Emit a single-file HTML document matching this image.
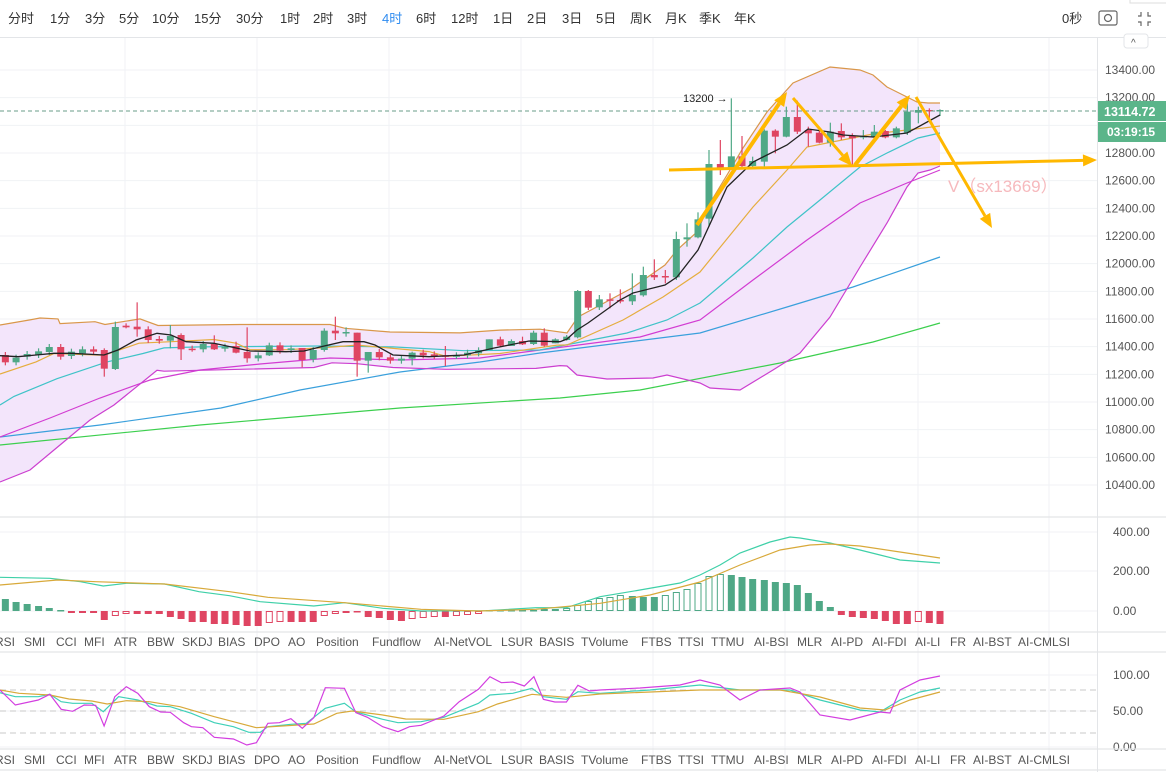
<!DOCTYPE html>
<html><head><meta charset="utf-8"><style>
html,body{margin:0;padding:0;background:#fff;width:1166px;height:772px;overflow:hidden}
#c{position:absolute;left:0;top:0}
svg text{font-family:"Liberation Sans","Noto Sans CJK SC",sans-serif}
</style></head><body><div id="c"></div>
<script>
const W=1166,H=772;let s='';
const P=a=>a.map(p=>p[0].toFixed(1)+','+p[1].toFixed(1)).join(' ');
const fx=y=>290+(y-290)*0.9333;
// toolbar
const tb=[['分时',8],['1分',50],['3分',85],['5分',119],['10分',152],['15分',194],['30分',236],['1时',280],['2时',313],['3时',347],['4时',382],['6时',416],['12时',451],['1日',493],['2日',527],['3日',562],['5日',596],['周K',630],['月K',665],['季K',699],['年K',734]];
tb.forEach(t=>{s+=`<text x="${t[1]}" y="23" font-size="13" fill="${t[0]=='4时'?'#2f8cf0':'#333'}">${t[0]}</text>`});
s+=`<text x="1062" y="23" font-size="13" fill="#333">0秒</text>`;
s+=`<rect x="1099" y="11" width="18" height="14" rx="2" fill="none" stroke="#666" stroke-width="1.2"/><circle cx="1108" cy="18" r="3.5" fill="none" stroke="#666" stroke-width="1.2"/>`;
s+=`<path d="M1141 12v4h-3M1148 12v4h3M1141 26v-4h-3M1148 26v-4h3" stroke="#666" fill="none" stroke-width="1.2"/>`;
s+=`<rect x="1130" y="-6" width="40" height="9" fill="#fff" stroke="#ddd"/>`;
s+=`<line x1="0" y1="37.5" x2="${W}" y2="37.5" stroke="#e3e5e8"/>`;
// grids
const py=p=>70+(13400-p)*0.13833;
const vx=[125,257,389,521,653,785,918,1049];
vx.forEach(x=>{s+=`<line x1="${x}" y1="38" x2="${x}" y2="770" stroke="#f0f2f5"/>`});
for(let p=13400;p>=10400;p-=200){const y=py(p);s+=`<line x1="0" y1="${y}" x2="1097" y2="${y}" stroke="#f0f2f5"/>`;s+=`<text x="1105" y="${y+4}" font-size="12" fill="#555">${p}.00</text>`;}
[532,571,611,675,711,747].forEach(y=>{s+=`<line x1="0" y1="${y}" x2="1097" y2="${y}" stroke="#f0f2f5"/>`});
[[532,'400.00'],[571,'200.00'],[611,'0.00'],[675,'100.00'],[711,'50.00'],[747,'0.00']].forEach(t=>{s+=`<text x="1113" y="${t[0]+4}" font-size="12" fill="#555">${t[1]}</text>`});
[517,632,652,749,770].forEach(y=>{s+=`<line x1="0" y1="${y}" x2="${W}" y2="${y}" stroke="#e3e5e8" stroke-width="1.2"/>`});
s+=`<line x1="1097.5" y1="38" x2="1097.5" y2="772" stroke="#e3e5e8"/>`;
s+=`<rect x="1124" y="34" width="24" height="14" rx="3" fill="#fff" stroke="#e3e5e8"/><text x="1131" y="46" font-size="10" fill="#555">^</text>`;
// BB
const up=[[0,325],[30,fx(322)],[40,fx(320)],[58,fx(321)],[60,fx(326)],[95,fx(324)],[105,fx(327)],[140,fx(321)],[158,fx(328)],[240,fx(327)],[330,fx(327)],[345,fx(331)],[390,fx(335)],[460,fx(336)],[500,fx(333)],[540,fx(332)],[567,333],[578,317],[632,288],[665,265],[677,250],[697,232],[710,203],[727,175],[743,148],[767,112],[793,83],[830,67],[860,70],[873,75],[887,87],[903,95],[917,102],[928,103],[940,103]];
const lo=[[0,482],[30,470],[60,445],[90,420],[114,405],[157,fx(376)],[164,fx(377)],[314,fx(373)],[332,fx(368)],[357,fx(369)],[393,fx(373)],[446,fx(375)],[536,fx(374)],[560,fx(371)],[567,366],[577,375],[607,379],[653,378],[667,375],[700,383],[710,388],[740,390],[773,370],[800,353],[830,317],[860,267],[887,223],[907,187],[918,173],[930,170],[940,166]];
s+=`<polygon points="${P(up.concat(lo.slice().reverse()))}" fill="#f3e5fb"/>`;
const line=(a,c,w)=>{s+=`<polyline points="${P(a)}" fill="none" stroke="${c}" stroke-width="${w||1.2}"/>`};
line([[0,445],[200,425],[400,408],[560,398],[640,390],[780,363],[873,342],[940,323]],'#3ccf4e');
line([[0,437],[100,425],[221,408],[300,390],[400,372],[480,362],[540,353],[700,333],[787,307],[853,287],[940,257]],'#3aa0dc');
line([[0,437],[50,418],[100,398],[150,380],[200,370],[260,364],[330,358],[400,360],[480,358],[540,350],[640,337],[700,320],[753,280],[807,240],[860,203],[907,183],[940,170]],'#d23cd2');
line(lo,'#cc3fd0');
line([[0,405],[14,fx(404)],[57,fx(385)],[107,fx(367)],[143,fx(358)],[164,fx(352)],[200,fx(351)],[321,fx(350)],[393,fx(351)],[464,fx(355)],[540,350],[627,333],[667,320],[700,303],[753,258],[787,227],[820,200],[860,167],[887,153],[918,138],[940,133]],'#3fc3c8');
line([[0,fx(380)],[36,fx(367)],[54,fx(358)],[104,fx(360)],[139,fx(347)],[179,fx(345)],[214,fx(343)],[236,fx(347)],[250,fx(354)],[286,fx(354)],[321,fx(352)],[357,fx(349)],[429,fx(356)],[446,fx(361)],[500,fx(358)],[557,fx(349)],[567,345],[623,320],[663,297],[700,272],[753,207],[787,170],[807,147],[827,143],[873,134],[907,130],[940,126]],'#e5ad3e');
line(up,'#d9974a');
// candles
const G='#4fa886',R='#df4562';
const e=[[15,195,217],[45,217,203],[76,200,192],[108,195,184],[138,186,171],[170,171,200],[200,198,185],[231,190,178],[262,178,185],[292,180,236,175,260],[323,237,111,95,240],[353,107,112,100,115],[384,110,118,37,140],[415,118,150],[446,147,152],[477,152,138,105,175],[507,135,178,130,210],[538,176,176],[569,178,162],[600,162,178,136,180],[630,176,170],[661,168,188,155,190],[692,186,205,112,218],[723,205,196],[754,196,166,158,198],[784,166,182],[815,180,175],[846,174,210,174,232],[877,208,180],[908,180,122,115,185],[939,122,130,80,150],[969,130,126,112,140],[1000,128,212,128,260],[1031,212,186,186,248],[1062,186,202],[1093,202,212],[1124,212,206],[1154,206,188,185,226],[1185,188,196],[1216,193,198],[1247,196,198,168,228],[1278,198,196],[1309,196,188],[1340,190,181],[1370,180,148,148,165],[1401,148,167,140,170],[1432,168,153,148,160],[1463,153,163,140,165],[1494,162,128,122,165],[1524,128,167,115,170],[1555,160,148,145,160]];
const r=[[80,840,830,825,842],[113,832,693,690,835],[145,693,743,690,750],[178,742,718,705,750],[210,718,722,700,745],[241,720,724,688,730],[277,724,705,640,735],[310,706,645,620,710],[343,645,652,598,660],[376,648,652,630,670],[409,652,537,515,660],[441,538,532,490,560],[474,532,478,457,535],[507,476,312,270,500],[541,312,330,240,345],[574,330,289,115,330],[606,289,318,228,325],[638,318,303,290,325],[673,305,212,208,320],[706,212,230,208,280],[739,230,171,140,232],[772,171,215,122,222],[805,210,220,200,260],[838,218,248,210,250],[871,248,215,188,260],[904,213,232,190,240],[937,228,235,220,318],[970,232,228,210,238],[1003,232,215,195,235],[1036,213,232,210,235],[1069,232,205,200,235],[1102,218,155,130,225],[1135,158,150,140,190],[1168,150,153,145,180],[1200,153,150,148,168]];
const C=[];
e.forEach(a=>{const o=290+a[1]/3,c=290+a[2]/3;C.push([a[0]/2.8,o,c,a[3]!=null?290+a[3]/3:Math.min(o,c)-3,a[4]!=null?290+a[4]/3:Math.max(o,c)+3])});
r.forEach(a=>{C.push([540+a[0]/3,60+a[1]/3,60+a[2]/3,60+a[3]/3,60+a[4]/3])});
C.forEach(k=>{const[x,o,c,h,l]=k;const col=c<o?G:R;const t=Math.min(o,c),b=Math.max(o,c);
s+=`<line x1="${x}" y1="${h}" x2="${x}" y2="${l}" stroke="${col}" stroke-width="1.2"/><rect x="${x-3.5}" y="${t}" width="7" height="${Math.max(b-t,1.5)}" fill="${col}"/>`});
// black MA
line([[0,290+197/3],[18,290+200/3],[36,290+195/3],[54,290+190/3],[71,290+190/3],[104,290+195/3],[118,290+180/3],[136,290+150/3],[157,290+130/3],[171,290+135/3],[186,290+155/3],[214,290+160/3],[250,290+183/3],[286,290+185/3],[304,290+183/3],[321,290+170/3],[343,290+155/3],[364,290+155/3],[375,290+165/3],[393,290+195/3],[429,290+200/3],[464,290+195/3],[493,290+175/3],[529,290+153/3],[560,290+155/3],[567,339],[577,330],[588,323],[620,300],[633,293],[665,285],[677,277],[698,250],[727,187],[753,162],[787,145],[808,129],[830,132],[843,135],[873,137],[907,133],[940,115]],'#222',1.3);
// dashed price line & box
s+=`<line x1="0" y1="111" x2="1097" y2="111" stroke="#6a9c88" stroke-dasharray="4,3"/>`;
s+=`<rect x="1098" y="101" width="68" height="41" fill="#5bb58a"/><line x1="1098" y1="121.5" x2="1166" y2="121.5" stroke="#fff"/>`;
s+=`<text x="1104" y="116" font-size="12.5" font-weight="bold" fill="#fff">13114.72</text><text x="1107" y="136" font-size="12" font-weight="bold" fill="#fff">03:19:15</text>`;
s+=`<text x="683" y="102" font-size="11" fill="#222">13200 →</text>`;
// arrows
const Y='#ffb800';
const arr=(x1,y1,x2,y2,w)=>{const a=Math.atan2(y2-y1,x2-x1),L=14,hw=6;const bx=x2-L*Math.cos(a),by=y2-L*Math.sin(a);
s+=`<line x1="${x1}" y1="${y1}" x2="${bx}" y2="${by}" stroke="${Y}" stroke-width="${w}"/><polygon points="${x2},${y2} ${bx-hw*Math.sin(a)},${by+hw*Math.cos(a)} ${bx+hw*Math.sin(a)},${by-hw*Math.cos(a)}" fill="${Y}"/>`};
arr(669,170,1097,160,3);arr(697,225,787,92,4);arr(793,98,852,166,3);arr(855,165,910,95,4);arr(916,97,992,228,3);
s+=`<text x="948" y="192" font-size="17" fill="#f6b9bd">V（sx13669）</text>`;
// MACD hist
const hv=[12,9,7,5,3,1,-2,-2,-2,-9,-5,-3,-3,-3,-3,-6,-8,-11,-11,-13,-13,-14,-15,-15,-12,-11,-11,-11,-11,-5,-3,-2,-1,-6,-7,-9,-10,-8,-7,-6,-6,-5,-4,-3,1,1,1,1,1,2,2,3,6,10,13,14,16,15,14,14,16,19,22,28,35,37,36,34,32,31,29,28,26,18,10,4,-4,-6,-7,-8,-10,-13,-13,-11,-12,-13];
hv.forEach((v,i)=>{const x=C[i][0];const p=i?hv[i-1]:v;const col=v>=0?G:R;const hol=(v>=0&&v>p)||(v<0&&Math.abs(v)<Math.abs(p));
const t=v>=0?611-v:611,hh=Math.max(Math.abs(v),1.5);
s+=hol?`<rect x="${x-3}" y="${t+0.5}" width="6" height="${hh-1}" fill="none" stroke="${col}" stroke-width="1"/>`:`<rect x="${x-3.5}" y="${t}" width="7" height="${hh}" fill="${col}"/>`});
const z3=a=>a.map(p=>[p[0]/2.613,500+p[1]/3]);
line(z3([[0,232],[130,235],[210,245],[270,258],[330,250],[430,252],[520,275],[600,287],[680,305],[820,318],[900,308],[1000,325],[1100,333],[1270,332],[1400,323],[1480,323],[1568,290]]).concat([[640,590],[680,583],[700,575],[720,565],[740,553],[770,542],[790,537],[800,538],[830,543],[860,550],[880,555],[900,560],[940,563]]),'#3fd0a8');
line(z3([[0,255],[150,240],[250,245],[430,252],[600,275],[700,292],[900,308],[1100,328],[1250,333],[1400,328],[1568,310]]).concat([[650,595],[700,582],[740,565],[780,550],[810,545],[830,544],[860,546],[900,552],[940,558]]),'#d8a93a');
// RSI pane
[690,711,733].forEach(y=>{s+=`<line x1="0" y1="${y}" x2="1097" y2="${y}" stroke="#c8c8c8" stroke-dasharray="6,4"/>`});
line(z3([[0,578],[40,590],[100,590],[130,583],[160,605],[190,610],[240,610],[270,635],[310,590],[360,600],[410,618],[445,620],[500,640],[560,668],[610,680],[650,697],[680,697],[700,680],[760,673],[800,670],[850,625],[900,610],[930,636],[1000,658],[1040,668],[1100,665],[1160,652],[1250,610],[1280,585],[1340,580],[1390,565],[1420,590],[1480,598],[1510,575],[1568,580]]).concat([[650,690],[700,685],[740,690],[790,690],[820,700],[860,710],[880,712],[900,700],[920,692],[940,688]]),'#3fd0b8');
line(z3([[0,570],[50,580],[130,585],[180,597],[240,603],[280,612],[330,602],[390,605],[470,620],[560,650],[620,668],[670,683],[820,672],[880,640],[920,633],[1000,645],[1060,657],[1160,658],[1250,635],[1300,612],[1390,583],[1480,592],[1568,582]]).concat([[700,690],[780,690],[820,697],[860,708],[885,710],[910,700],[940,692]]),'#d8a93a');
line(z3([[0,570],[40,615],[100,600],[130,583],[160,628],[190,634],[220,615],[250,616],[272,678],[300,590],[330,560],[360,580],[390,620],[420,636],[445,637],[480,668],[500,680],[530,683],[560,712],[610,717],[645,735],[670,728],[700,670],[730,668],[760,656],[790,685],[820,653],[850,563],[900,565],[930,638],[960,652],[1000,680],[1040,695],[1070,680],[1100,676],[1160,648],[1200,605],[1250,568],[1280,530],[1310,548],[1340,546],[1370,558],[1395,530],[1420,598],[1450,606],[1480,606],[1510,556],[1540,573],[1568,570]]).concat([[640,688],[680,685],[700,680],[720,685],[740,700],[760,690],[790,688],[800,692],[820,715],[850,720],[880,712],[890,713],[900,690],[920,680],[940,676]]),'#d33ee0');
// label rows
const lb=[['RSI',-5],['SMI',24],['CCI',56],['MFI',84],['ATR',114],['BBW',147],['SKDJ',182],['BIAS',218],['DPO',254],['AO',288],['Position',316],['Fundflow',372],['AI-NetVOL',434],['LSUR',501],['BASIS',539],['TVolume',581],['FTBS',641],['TTSI',678],['TTMU',711],['AI-BSI',754],['MLR',797],['AI-PD',831],['AI-FDI',872],['AI-LI',915],['FR',950],['AI-BST',973],['AI-CMLSI',1018]];
[646,764].forEach(y=>lb.forEach(t=>{s+=`<text x="${t[1]}" y="${y}" font-size="12" fill="#555">${t[0]}</text>`}));
document.getElementById('c').innerHTML=`<svg width="${W}" height="${H}" viewBox="0 0 ${W} ${H}">${s}</svg>`;
</script></body></html>
